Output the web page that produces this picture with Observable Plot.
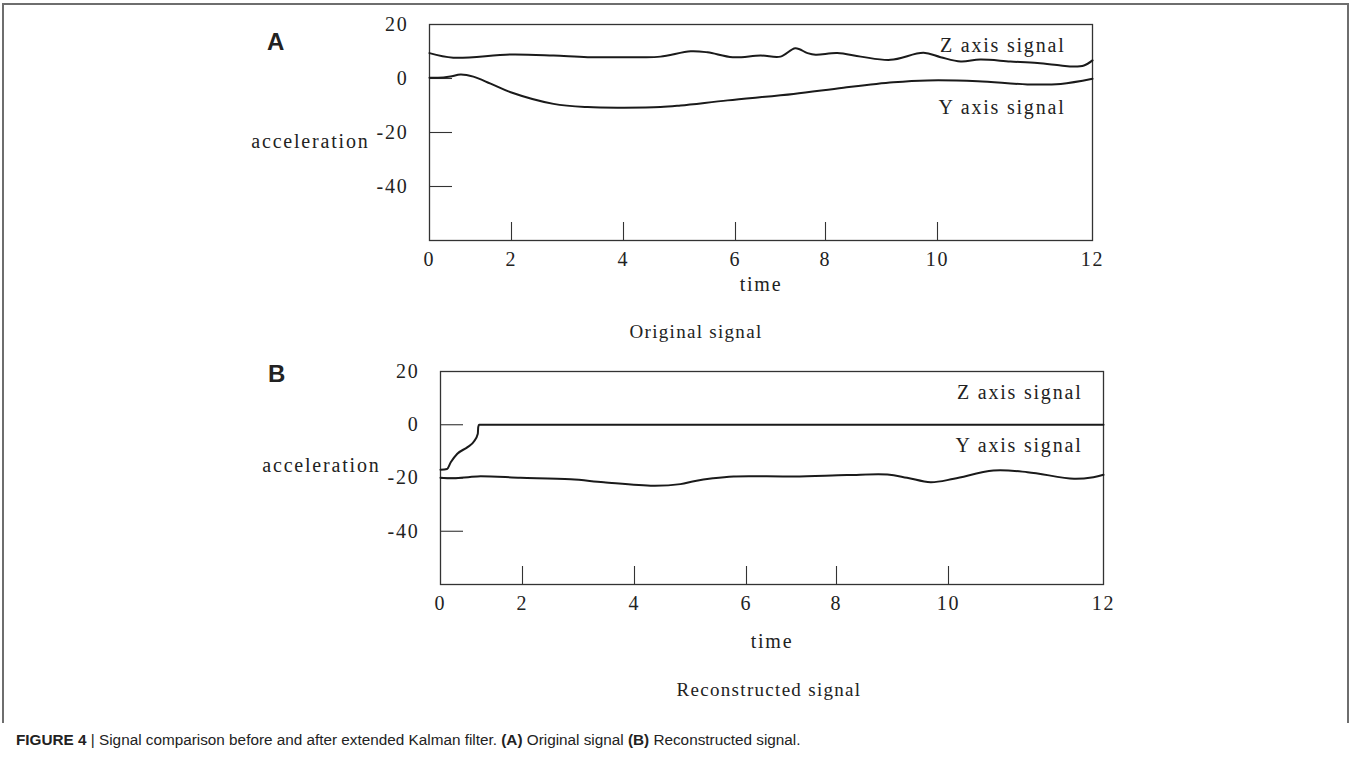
<!DOCTYPE html>
<html>
<head>
<meta charset="utf-8">
<script src="https://cdn.jsdelivr.net/npm/d3@7"></script>
<script src="https://cdn.jsdelivr.net/npm/@observablehq/plot@0.6"></script>
<style>
  body { margin: 0; background: #fff; }
  #page { position: relative; width: 1351px; height: 760px; overflow: hidden; background: #fff; }
  .border { position: absolute; left: 2px; top: 3px; width: 1343px; height: 718px; border: 2px solid #6e6e6e; border-bottom: none; }
  .panel { position: absolute; left: 0; }
  .plabel { position: absolute; font-family: "Liberation Sans", Arial, sans-serif; font-weight: bold; font-size: 24px; line-height: 24px; color: #222; }
  .subtitle { position: absolute; font-family: "Liberation Serif", "Times New Roman", serif; font-size: 19px; letter-spacing: 1.3px; color: #222; transform: translate(-50%, -50%); white-space: nowrap; line-height: 22px; }
  .caption { position: absolute; left: 16px; top: 731px; font-family: "Liberation Sans", Arial, sans-serif; font-size: 15.3px; color: #222; white-space: nowrap; }
</style>
</head>
<body>
<div id="page">
  <div class="border"></div>
  <div id="panelA" class="panel" style="top:0px"></div>
  <div id="panelB" class="panel" style="top:340px"></div>
  <div class="plabel" style="left:267px; top:30px">A</div>
  <div class="plabel" style="left:268px; top:362px">B</div>
  <div class="subtitle" style="left:696px; top:332px">Original signal</div>
  <div class="subtitle" style="left:769px; top:690px">Reconstructed signal</div>
  <div class="caption"><b>FIGURE 4</b> | Signal comparison before and after extended Kalman filter. <b>(A)</b> Original signal <b>(B)</b> Reconstructed signal.</div>
</div>
<script>
// ---- data ----
const xTicks = [0, 2, 4, 6, 8, 10, 12];
const yTicks = [20, 0, -20, -40];
const seriesLabels = ["Z axis signal", "Y axis signal"];

// Panel A: original signal
const timeA_Z = [0, 0.58, 1.98, 2.75, 3.36, 4.25, 4.66, 5.2, 5.5, 5.95, 6.56, 7.0, 7.33, 7.6, 7.78, 8.21, 8.63, 9.16, 9.75, 10.04, 10.3, 10.55, 10.94, 11.29, 11.59, 11.76, 11.89, 12];
const accA_Z  = [9.4, 7.7, 8.9, 8.5, 7.9, 7.9, 8.1, 10.1, 9.7, 7.9, 8.5, 8.1, 11.2, 9.4, 8.8, 9.4, 8.1, 6.9, 9.5, 7.9, 6.3, 7.0, 6.3, 5.7, 4.8, 4.4, 4.8, 6.7];
const timeA_Y = [0, 0.34, 0.51, 0.76, 1.07, 1.49, 1.98, 2.75, 3.36, 4.0, 4.66, 5.02, 5.86, 7.29, 8.32, 9.21, 9.82, 10.52, 11.16, 11.59, 12];
const accA_Y  = [0.3, 0.4, 0.7, 1.5, 0.7, -1.9, -5.1, -9.4, -10.6, -10.8, -10.6, -10.0, -8.1, -5.7, -3.4, -1.4, -0.7, -1.0, -2.2, -2.0, -0.1];

// Panel B: reconstructed signal
const timeB_Z = [0, 0.16, 0.25, 0.41, 0.66, 0.82, 0.91, 0.92, 0.94, 3, 6, 9, 12];
const accB_Z  = [-16.9, -16.6, -14.1, -10.9, -8.4, -6.2, -3.4, -0.9, 0.0, 0.0, 0.0, 0.0, 0.0];
const timeB_Y = [0, 0.33, 0.9, 1.95, 2.86, 3.45, 4.34, 4.82, 5.06, 5.4, 5.77, 7.05, 8.19, 8.91, 9.26, 9.68, 10.07, 10.58, 11.02, 11.62, 11.87, 12];
const accB_Y  = [-19.9, -20.1, -19.4, -19.9, -20.5, -21.6, -22.9, -22.3, -21.2, -20.1, -19.4, -19.4, -18.9, -18.7, -19.9, -21.6, -20.3, -17.2, -17.8, -20.3, -19.7, -18.8];

// label anchor values (in data units)
const labelA_Y = [12.2, -10.7];
const labelB_Y = [12.1, -7.8];

function toRows(t, v) { return t.map((d, i) => ({time: d, acc: v[i]})); }

function panel({zRows, yRows, zCurve, xRange, height, marginTop, marginBottom, labelY, labelDx, accelY, timeDy}) {
  const W = 1351;
  const fmt = d => String(d);
  return Plot.plot({
    width: W,
    height,
    marginTop,
    marginBottom,
    marginLeft: xRange[0],
    marginRight: W - xRange[xRange.length - 1],
    x: {type: "linear", domain: xTicks, range: xRange},
    y: {domain: [-60, 20]},
    style: {
      fontFamily: "'Liberation Serif', 'Times New Roman', serif",
      fontSize: "20px",
      letterSpacing: "1.8px",
      color: "#222",
      background: "transparent",
      overflow: "visible"
    },
    marks: [
      Plot.frame({stroke: "#333", strokeWidth: 1.3}),
      Plot.axisX(xTicks.slice(1, -1), {tickSize: -18, fill: "none", stroke: "#333", strokeWidth: 1.1, label: null}),
      Plot.axisX(xTicks, {tickSize: 0, tickPadding: 11, tickFormat: fmt, label: null}),
      Plot.axisY(yTicks.slice(1), {tickSize: -23, fill: "none", stroke: "#333", strokeWidth: 1.1, label: null}),
      Plot.axisY(yTicks, {tickSize: 0, tickPadding: 21, tickFormat: fmt, label: null}),
      Plot.line(zRows, {x: "time", y: "acc", curve: zCurve, stroke: "#1a1a1a", strokeWidth: 2}),
      Plot.line(yRows, {x: "time", y: "acc", curve: "catmull-rom", stroke: "#1a1a1a", strokeWidth: 2}),
      Plot.text(seriesLabels, {x: 12, y: labelY, textAnchor: "end", dx: labelDx, fill: "#222"}),
      Plot.text(["acceleration"], {frameAnchor: "left", y: accelY, textAnchor: "end", dx: -60, fill: "#222"}),
      Plot.text(["time"], {frameAnchor: "bottom", dy: timeDy, fill: "#222"})
    ]
  });
}

document.getElementById("panelA").append(panel({
  zRows: toRows(timeA_Z, accA_Z),
  yRows: toRows(timeA_Y, accA_Y),
  zCurve: "catmull-rom",
  xRange: [429, 511, 623, 735, 825, 937, 1092],
  height: 300, marginTop: 24, marginBottom: 60,
  labelY: labelA_Y, labelDx: -27, accelY: -23.3, timeDy: 50
}));

document.getElementById("panelB").append(panel({
  zRows: toRows(timeB_Z, accB_Z),
  yRows: toRows(timeB_Y, accB_Y),
  zCurve: "monotone-x",
  xRange: [440, 522, 634, 746, 836, 948, 1103],
  height: 320, marginTop: 31, marginBottom: 76,
  labelY: labelB_Y, labelDx: -21, accelY: -15.3, timeDy: 63
}));
</script>
</body>
</html>
